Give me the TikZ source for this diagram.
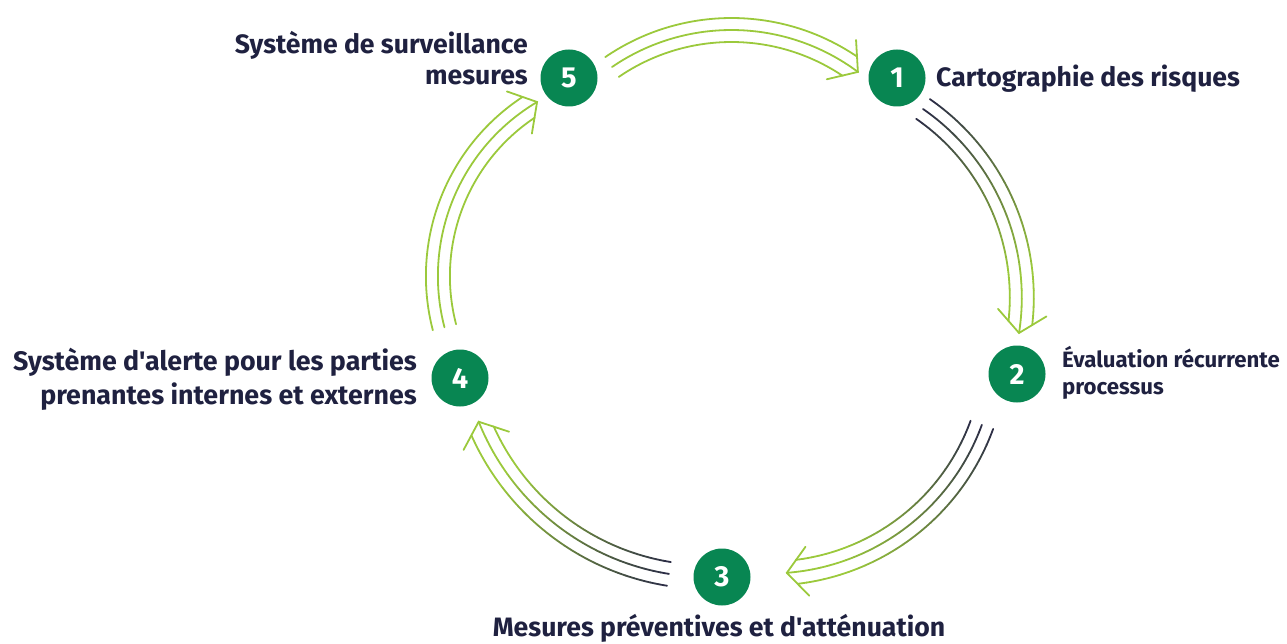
\documentclass[tikz,border=0pt]{standalone}
\usepackage{fontspec}
\setmainfont{Fira Sans}[Ligatures=TeXOff]
\usetikzlibrary{positioning}

\definecolor{inkblue}{RGB}{31,33,64}
\definecolor{stepgreen}{RGB}{8,134,82}
\definecolor{leafgreen}{RGB}{155,201,60}
\definecolor{shadeblue}{RGB}{40,40,70}

\tikzset{
  stepdot/.style={circle, fill=stepgreen, minimum size=57pt, inner sep=0pt,
    text=white, font=\fontsize{29}{29}\selectfont\bfseries},
  steplabel/.style={text=inkblue, inner sep=0pt,
    font=\fontsize{26.6}{31}\selectfont\bfseries},
  ringline/.style={line width=1.8pt, line cap=round, line join=miter, draw=leafgreen},
}

% three parallel arcs round a centre, with an open head at the end
% #1 centre, #2 radius, #3 start angle, #4 tip angle, #5 = 1 when it fades in from blue
\newcommand{\cyclearrow}[5]{%
  \foreach \dr in {-12,0,12}{%
    \pgfmathsetmacro\rr{#2+\dr}%
    \pgfmathsetmacro\angE{#4-(\dr!=0)*10/\rr*180/pi}%
    \ifnum#5=1
      \foreach \k in {1,...,30}{%
        \pgfmathsetmacro\angA{#3+(\angE-#3)*(\k-1)/30}%
        \pgfmathsetmacro\angB{#3+(\angE-#3)*\k/30}%
        \pgfmathtruncatemacro\pc{min(100,\k*100/24)}%
        \draw[ringline, draw=leafgreen!\pc!shadeblue] (#1) ++(\angA:\rr)
          arc[start angle=\angA, end angle=\angB, radius=\rr];
      }%
    \else
      \draw[ringline] (#1) ++(#3:\rr) arc[start angle=#3, end angle=\angE, radius=\rr];
    \fi
  }%
  \draw[ringline] (#1) ++(#4:#2) coordinate (tip) ++(#4-40:32) -- (tip) -- ++(#4-140:32);
}

\begin{document}
\begin{tikzpicture}[x=1pt,y=-1pt]
\useasboundingbox (0,0) rectangle (1287,644);

% step markers
\node[stepdot] (n1) at (897,78) {1};
\node[stepdot] (n2) at (1017,374) {2};
\node[stepdot] (n3) at (722,577) {3};
\node[stepdot] (n4) at (460,378) {4};
\node[stepdot] (n5) at (569,78) {5};

% labels
\node[steplabel, anchor=west] (t1) at (936,79) {Cartographie des risques};
\node[steplabel, anchor=west, align=left, font=\fontsize{22.2}{27}\selectfont\bfseries]
  (t2) at (1062,373) {Évaluation récurrente\\processus};
\node[steplabel] (t3) at (719,628) {Mesures préventives et d'atténuation};
\node[steplabel, anchor=east, align=right, font=\fontsize{26.8}{34}\selectfont\bfseries]
  (t4) at (417,379) {Système d'alerte pour les parties\\prenantes internes et externes};
\node[steplabel, anchor=east, align=right] (t5) at (528,58) {Système de surveillance\\mesures};

% centres of the arcs
\coordinate (c51) at (731.5,241.5);
\coordinate (c12) at (792.5,297.5);
\coordinate (c23) at (769.5,347.5);
\coordinate (c34) at (708,330);
\coordinate (c45) at (640.5,276.2);

% cycle arrows
\cyclearrow{c51}{211.5}{-124.4}{-53.3}{0}
\cyclearrow{c12}{229.3}{-55.3}{8.9}{1}
\cyclearrow{c23}{226}{20}{85.6}{1}
\cyclearrow{c34}{247}{99.1}{158.2}{1}
\cyclearrow{c45}{202.6}{165.4}{239.3}{0}

\end{tikzpicture}
\end{document}
